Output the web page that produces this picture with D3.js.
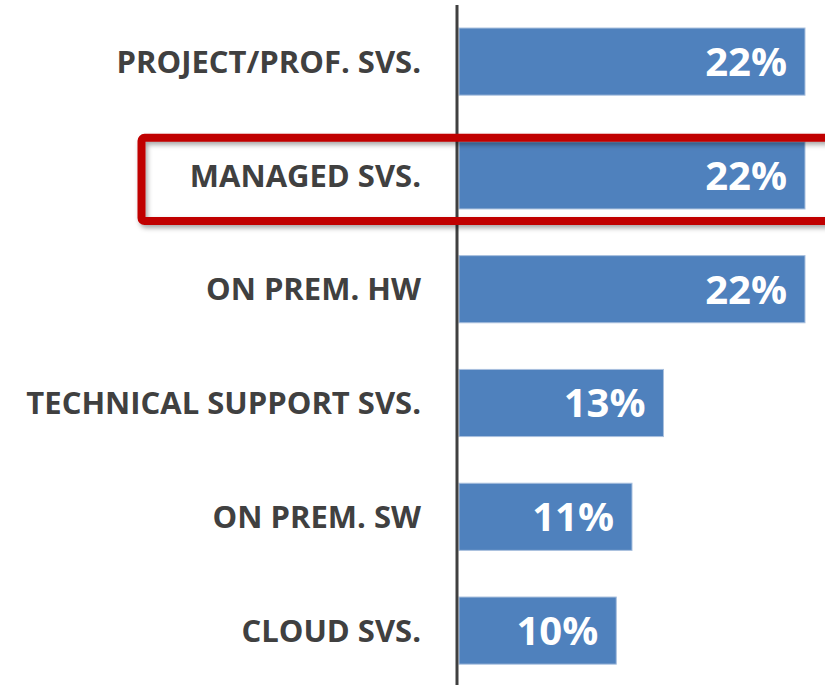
<html>
<script src="https://d3js.org/d3.v7.min.js"></script>
<style>
body {margin: 0; background: #fff;}
.cat {font-family: "Open Sans", sans-serif; font-weight: bold; fill: #404040;}
.val {font-family: "Open Sans", sans-serif; font-weight: bold; fill: #fff;}
</style>
<body>
<svg width="825" height="685"></svg>
<script>
var categories = ["PROJECT/PROF. SVS.", "MANAGED SVS.", "ON PREM. HW", "TECHNICAL SUPPORT SVS.", "ON PREM. SW", "CLOUD SVS."];
var values = [22, 22, 22, 13, 11, 10];
var highlighted = "MANAGED SVS.";

var svg = d3.select("svg");

var defs = svg.append("defs");
var f = defs.append("filter").attr("id", "shadow").attr("x", "-10%").attr("y", "-30%").attr("width", "130%").attr("height", "170%");
f.append("feDropShadow").attr("dx", 2).attr("dy", 3).attr("stdDeviation", 2.5).attr("flood-color", "#000").attr("flood-opacity", 0.35);

var ys = d3.scaleBand().domain(categories).range([4.7, 687.5]).paddingInner(0.41).paddingOuter(0.205);
var xs = d3.scaleLinear().domain([0, 22]).range([459, 805]);

// bars
svg.append("g").selectAll("rect")
  .data(values)
  .enter()
  .append("rect")
  .attr("x", xs(0))
  .attr("y", function(d, i) { return ys(categories[i]); })
  .attr("width", function(d) { return xs(d) - xs(0); })
  .attr("height", ys.bandwidth())
  .style("fill", "#4f81bd")
  .style("stroke", "#a9c0de")
  .style("stroke-width", 1);

// value labels
svg.append("g").selectAll("text")
  .data(values)
  .enter()
  .append("text")
  .attr("class", "val")
  .attr("x", function(d) { return xs(d) - 18; })
  .attr("y", function(d, i) { return ys(categories[i]) + ys.bandwidth() / 2; })
  .attr("dy", "0.36em")
  .style("text-anchor", "end")
  .style("font-size", "40px")
  .text(function(d) { return d + "%"; });

// category labels
svg.append("g").selectAll("text")
  .data(categories)
  .enter()
  .append("text")
  .attr("class", "cat")
  .attr("x", 421)
  .attr("y", function(d) { return ys(d) + ys.bandwidth() / 2; })
  .attr("dy", "0.36em")
  .style("text-anchor", "end")
  .style("font-size", "31px")
  .text(function(d) { return d; });

// axis line
svg.append("line")
  .attr("x1", 457).attr("x2", 457)
  .attr("y1", 5).attr("y2", 685)
  .style("stroke", "#404040")
  .style("stroke-width", 3);

// highlight box
var hy = ys(highlighted);
svg.append("rect")
  .attr("x", 141.5)
  .attr("y", hy - 4)
  .attr("width", 720)
  .attr("height", ys.bandwidth() + 16)
  .attr("rx", 3)
  .style("fill", "none")
  .style("stroke", "#c00000")
  .style("stroke-width", 8)
  .attr("filter", "url(#shadow)");
</script>
</body>
</html>
